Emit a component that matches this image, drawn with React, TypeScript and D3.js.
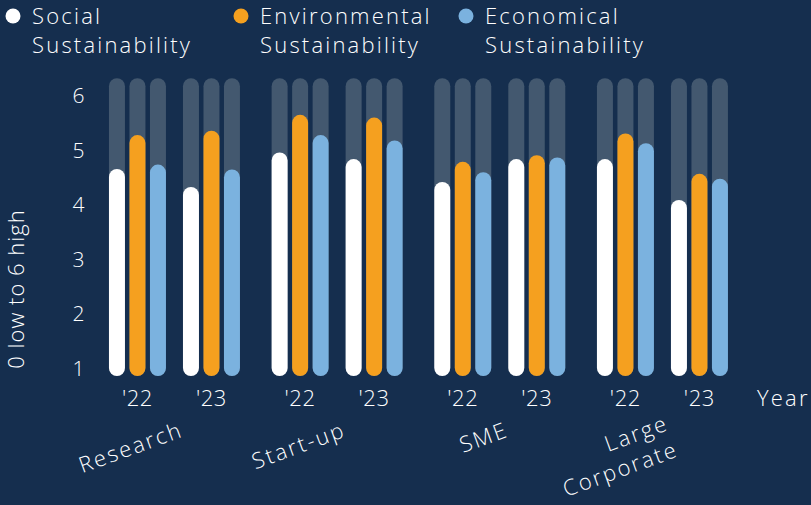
import React from "react";
import * as d3 from "d3";

const categories = ["Research", "Start-up", "SME", "Large Corporate"];
const categoryLines = [["Research"], ["Start-up"], ["SME"], ["Large", "Corporate"]];
const years = ["'22", "'23"];
const seriesNames = ["Social Sustainability", "Environmental Sustainability", "Economical Sustainability"];
const seriesLegendLines = [["Social", "Sustainability"], ["Environmental", "Sustainability"], ["Economical", "Sustainability"]];
const seriesColors = ["#FFFFFF", "#F5A01F", "#7BB2DF"];

// values[category][year] = [social, environmental, economical]
const social = [[4.5, 4.17], [4.8, 4.68], [4.26, 4.68], [4.68, 3.93]];
const environmental = [[5.12, 5.2], [5.49, 5.44], [4.63, 4.75], [5.15, 4.41]];
const economical = [[4.58, 4.49], [5.12, 5.02], [4.44, 4.71], [4.97, 4.32]];
const trackMax = 6.16;
const yTicks = [1, 2, 3, 4, 5, 6];

const W = 811;
const H = 505;
const BG = "#152E4E";
const TRACK = "#43586F";
const FONT = "'Open Sans', Lato, sans-serif";
const LS_WIDE = 2.2;
const LS = 0.6;

export default function App() {
  const seriesValues = [social, environmental, economical];
  const y = d3.scaleLinear().domain([1, 6]).range([368, 95]);
  const xOuter = d3.scaleBand<string>().domain(categories).range([92.7, 744.2]).paddingInner(0.1947).paddingOuter(0.1);
  const xYear = d3.scaleBand<string>().domain(years).range([0, xOuter.bandwidth()]).paddingInner(0.23);
  const xSeries = d3.scaleBand<string>().domain(seriesNames).range([0, xYear.bandwidth()]).paddingInner(0.22);
  const bw = xSeries.bandwidth();

  const bars: JSX.Element[] = [];
  categories.forEach((c, ci) => {
    years.forEach((yr, yi) => {
      seriesNames.forEach((s, si) => {
        const x = (xOuter(c) ?? 0) + (xYear(yr) ?? 0) + (xSeries(s) ?? 0);
        const v = seriesValues[si][ci][yi];
        const yb = y(1);
        bars.push(
          <rect key={`t-${ci}-${yi}-${si}`} x={x} width={bw} y={y(trackMax) - bw / 2} height={yb - y(trackMax) + bw} rx={bw / 2} fill={TRACK} />
        );
        bars.push(
          <rect key={`b-${ci}-${yi}-${si}`} x={x} width={bw} y={y(v) - bw / 2} height={yb - y(v) + bw} rx={bw / 2} fill={seriesColors[si]} />
        );
      });
    });
  });

  const legendX = [13, 241, 466];

  return (
    <svg width={W} height={H} style={{ display: "block", position: "absolute", left: 0, top: 0 }} fontFamily={FONT} letterSpacing={LS}>
      <rect width={W} height={H} fill={BG} />
      {seriesNames.map((s, i) => (
        <g key={s}>
          <circle cx={legendX[i]} cy={16} r={7.5} fill={seriesColors[i]} />
          {seriesLegendLines[i].map((l, li) => (
            <text key={li} x={legendX[i] + 19} y={24 + li * 29} fill="#fff" fontSize={22} fontWeight={300} letterSpacing={LS_WIDE}>
              {l}
            </text>
          ))}
        </g>
      ))}
      {yTicks.map((t) => (
        <text key={t} x={85} y={y(t)} fill="#fff" fontSize={21} fontWeight={300} textAnchor="end" dominantBaseline="central">
          {t}
        </text>
      ))}
      <text transform="translate(15,289) rotate(-90)" fill="#fff" fontSize={22} fontWeight={300} textAnchor="middle" dominantBaseline="central" letterSpacing={1}>
        0 low to 6 high
      </text>
      {bars}
      {categories.map((c) =>
        years.map((yr) => (
          <text key={c + yr} x={(xOuter(c) ?? 0) + (xYear(yr) ?? 0) + xYear.bandwidth() / 2} y={406} fill="#fff" fontSize={22} fontWeight={300} textAnchor="middle">
            {yr}
          </text>
        ))
      )}
      <text x={757} y={406} fill="#fff" fontSize={22} fontWeight={300} letterSpacing={LS_WIDE}>
        Year
      </text>
      {categories.map((c, ci) => {
        const lines = categoryLines[ci];
        const cx = (xOuter(c) ?? 0) + xOuter.bandwidth() / 2 + 10;
        const lh = 28;
        return (
          <text key={c} transform={`translate(${cx},436) rotate(-20)`} fill="#fff" fontSize={22} fontWeight={300} textAnchor="end" letterSpacing={LS_WIDE}>
            {lines.map((l, li) => (
              <tspan key={li} x={0} y={(li - (lines.length - 1) / 4) * lh}>
                {l}
              </tspan>
            ))}
          </text>
        );
      })}
    </svg>
  );
}
